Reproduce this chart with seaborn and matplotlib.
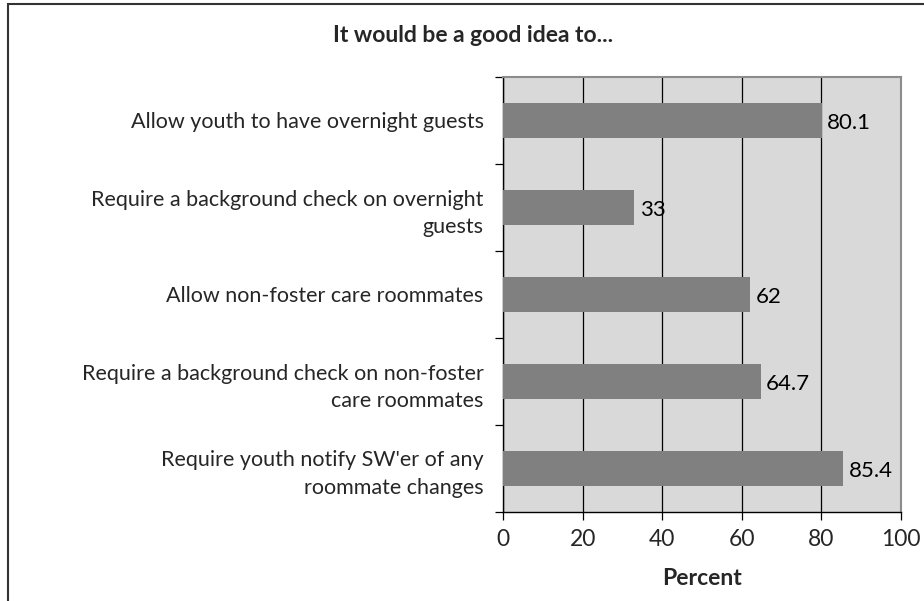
import matplotlib
matplotlib.use("Agg")
import matplotlib.pyplot as plt
import seaborn as sns
import pandas as pd
from matplotlib.ticker import FixedLocator
from matplotlib.patches import Rectangle

categories = [
    "Allow youth to have overnight guests",
    "Require a background check on overnight\nguests",
    "Allow non-foster care roommates",
    "Require a background check on non-foster\ncare roommates",
    "Require youth notify SW'er of any\nroommate changes",
]
values = [80.1, 33, 62, 64.7, 85.4]
value_labels = ["80.1", "33", "62", "64.7", "85.4"]
x_ticks = [0, 20, 40, 60, 80, 100]
title = "It would be a good idea to..."
xlabel = "Percent"

sns.set_theme(style="white")
plt.rcParams['font.family'] = ['Lato', 'DejaVu Sans']

df = pd.DataFrame({"cat": categories, "val": values})

fig = plt.figure(figsize=(9.24, 6.01), dpi=100)
ax = fig.add_axes([503/924, 1-512/601, 398/924, 435/601])
ax.set_facecolor("#D9D9D9")

sns.barplot(data=df, x="val", y="cat", color="#808080", width=0.41,
            saturation=1, ax=ax, zorder=3, edgecolor="none")

ax.set_xlim(0, 100)
ax.set_ylim(len(categories)-0.5, -0.5)
ax.xaxis.set_major_locator(FixedLocator(x_ticks))
ax.set_xticklabels([str(t) for t in x_ticks])
ax.grid(axis="x", color="black", linewidth=0.9, zorder=1)
ax.set_axisbelow(True)

ax.tick_params(axis="x", which="major", direction="out", length=6, width=0.9,
               color="black", labelsize=16.5, pad=6, bottom=True)
ax.tick_params(axis="y", which="major", length=0, labelsize=15.5, pad=14)
ax.yaxis.set_minor_locator(FixedLocator([i - 0.5 for i in range(len(categories)+1)]))
ax.tick_params(axis="y", which="minor", direction="out", length=6, width=0.9,
               color="black", left=True)
for lbl in ax.get_yticklabels():
    lbl.set_horizontalalignment("right")
    lbl.set_multialignment("right")
    lbl.set_linespacing(1.45)

for s in ["left", "bottom"]:
    ax.spines[s].set_color("black")
    ax.spines[s].set_linewidth(1.0)
for s in ["top", "right"]:
    ax.spines[s].set_color("#8C8C8C")
    ax.spines[s].set_linewidth(1.5)

for i, (v, t) in enumerate(zip(values, value_labels)):
    ax.annotate(t, xy=(v, i), xytext=(4, -2), textcoords="offset points",
                va="center", ha="left", fontsize=16, color="black")

ax.set_ylabel("")
ax.set_xlabel(xlabel, fontsize=16.5, fontweight="bold", labelpad=13)
fig.text(473/924, 1-35/601, title, ha="center", va="center",
         fontsize=16.5, fontweight="bold")

fig.patches.append(Rectangle((8/924, -0.1), 1.2, 1-4/601+0.1, transform=fig.transFigure,
                             fill=False, edgecolor="#333333", linewidth=1.5))

fig.savefig("out.png", dpi=100)
